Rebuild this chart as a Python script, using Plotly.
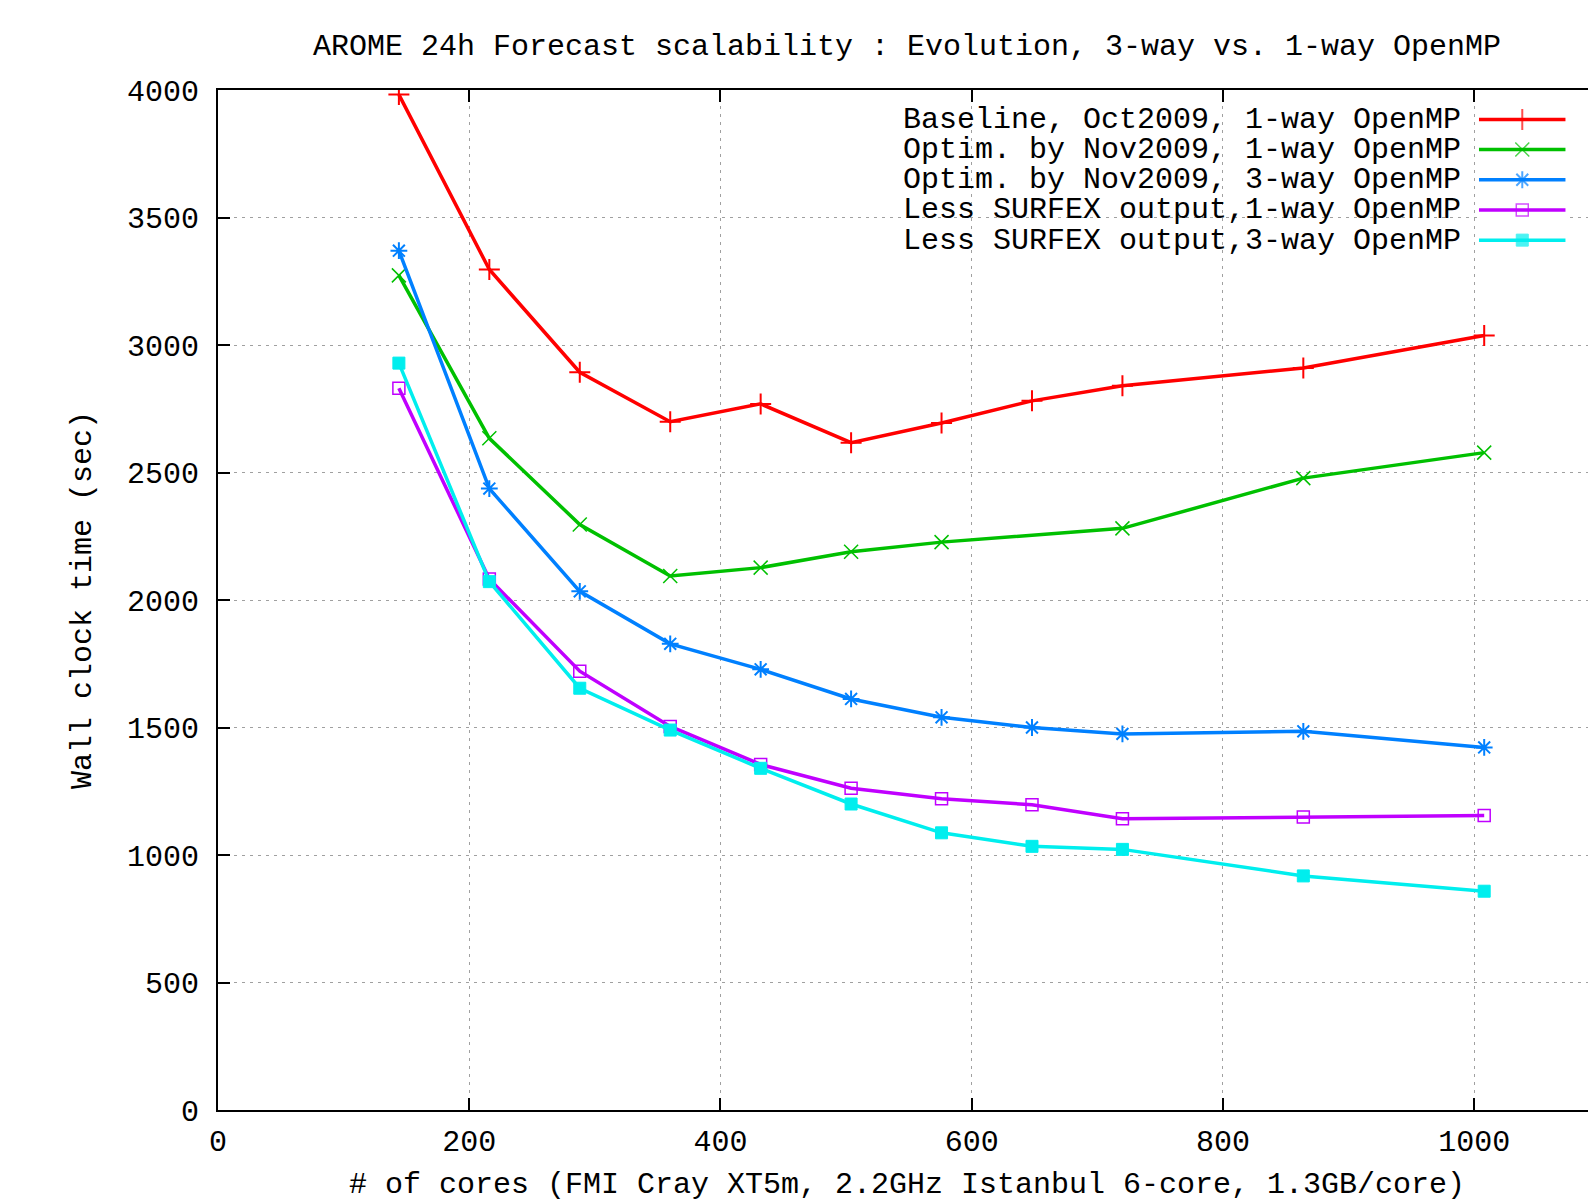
import plotly.graph_objects as go

# ---- data ----
cores = [144, 216, 288, 360, 432, 504, 576, 648, 720, 864, 1008]
cores_opt1 = [144, 216, 288, 360, 432, 504, 576, 720, 864, 1008]
baseline_1way = [3982, 3296, 2893, 2699, 2769, 2617, 2694, 2781, 2840, 2910, 3037]
optim_1way = [3273, 2634, 2296, 2094, 2127, 2189, 2227, 2281, 2478, 2578]
optim_3way = [3370, 2437, 2034, 1828, 1728, 1612, 1540, 1500, 1475, 1485, 1422]
surfex_1way = [2830, 2082, 1721, 1504, 1355, 1262, 1221, 1197, 1142, 1149, 1155]
surfex_3way = [2929, 2072, 1654, 1490, 1340, 1200, 1087, 1034, 1022, 918, 858]

series_names = [
    "Baseline, Oct2009, 1-way OpenMP",
    "Optim. by Nov2009, 1-way OpenMP",
    "Optim. by Nov2009, 3-way OpenMP",
    "Less SURFEX output,1-way OpenMP",
    "Less SURFEX output,3-way OpenMP",
]
x_ticks = [0, 200, 400, 600, 800, 1000]
y_ticks = [0, 500, 1000, 1500, 2000, 2500, 3000, 3500, 4000]

title_text = "AROME 24h Forecast scalability : Evolution, 3-way vs. 1-way OpenMP"
x_title = "# of cores (FMI Cray XT5m, 2.2GHz Istanbul 6-core, 1.3GB/core)"
y_title = "Wall clock time (sec)"

# ---- styles ----
FONT = "Liberation Mono, DejaVu Sans Mono, monospace"
FS = 30
colors = ["#ff0000", "#00c000", "#0080ff", "#c000ff", "#00eeee"]
symbols = ["cross-thin-open", "x-thin-open", "asterisk-open", "square-open", "square"]
msizes = [15, 14, 14, 12, 12]
mlw = [2, 1.5, 2, 1.5, 1]

xs = [cores, cores_opt1, cores, cores, cores]
ys = [baseline_1way, optim_1way, optim_3way, surfex_1way, surfex_3way]

# page body has an 8px margin, so the figure is 8px smaller than the window
W, H = 1588, 1194

fig = go.Figure()
for i in range(5):
    fig.add_trace(go.Scatter(
        x=xs[i], y=ys[i], mode="lines+markers", name=series_names[i],
        line=dict(color=colors[i], width=3.5),
        marker=dict(symbol=symbols[i], size=msizes[i], color=colors[i],
                    line=dict(color=colors[i], width=mlw[i])),
        showlegend=False,
    ))

# custom gnuplot-style key (text left, sample right) on an overlay axis
for i in range(5):
    fig.add_trace(go.Scatter(
        x=[0, 0.5, 1], y=[i, i, i], mode="lines+markers",
        xaxis="x2", yaxis="y2", showlegend=False, hoverinfo="skip",
        line=dict(color=colors[i], width=3.5),
        marker=dict(symbol=symbols[i], size=[0, msizes[i], 0], color=colors[i],
                    line=dict(color=colors[i], width=mlw[i])),
    ))
    fig.add_annotation(x=0, y=i, xref="x2", yref="y2", text=series_names[i],
                       xanchor="right", yanchor="middle", xshift=-17, showarrow=False,
                       height=29, valign="middle", borderpad=0,
                       font=dict(family=FONT, size=FS, color="black"))

fig.update_layout(
    width=W, height=H,
    margin=dict(l=210, r=0, t=82, b=92, autoexpand=False),
    paper_bgcolor="white", plot_bgcolor="white",
    font=dict(family=FONT, size=FS, color="black"),
    title=dict(text=title_text, x=0.5, xref="paper", xanchor="center",
               y=1 - 36 / H, yref="container", yanchor="middle",
               font=dict(family=FONT, size=FS, color="black"), automargin=False),
    xaxis=dict(range=[0, 1097], tickvals=x_ticks, ticktext=[str(v) for v in x_ticks],
               ticks="inside", ticklen=12, tickwidth=1.5, tickcolor="black",
               showline=True, linecolor="black", linewidth=2, mirror="ticks",
               showgrid=True, gridcolor="#a0a0a0", griddash="3px,5px", gridwidth=1,
               zeroline=False, ticklabelstandoff=3, automargin=False,
               title=dict(text=x_title, standoff=30,
                          font=dict(family=FONT, size=FS, color="black"))),
    yaxis=dict(range=[0, 4000], tickvals=y_ticks, ticktext=[str(v) for v in y_ticks],
               ticks="inside", ticklen=12, tickwidth=1.5, tickcolor="black",
               showline=True, linecolor="black", linewidth=2, mirror=False,
               showgrid=True, gridcolor="#a0a0a0", griddash="3px,5px", gridwidth=1,
               zeroline=False, ticklabelstandoff=11, automargin=False,
               title=dict(text=y_title, standoff=26,
                          font=dict(family=FONT, size=FS, color="black"))),
    xaxis2=dict(domain=[0.915, 0.978], range=[0, 1], anchor="y2", visible=False,
                fixedrange=True),
    yaxis2=dict(domain=[0.838, 0.986], range=[4.5, -0.5], anchor="x2", visible=False,
                fixedrange=True),
)

fig.write_html("out.html")
